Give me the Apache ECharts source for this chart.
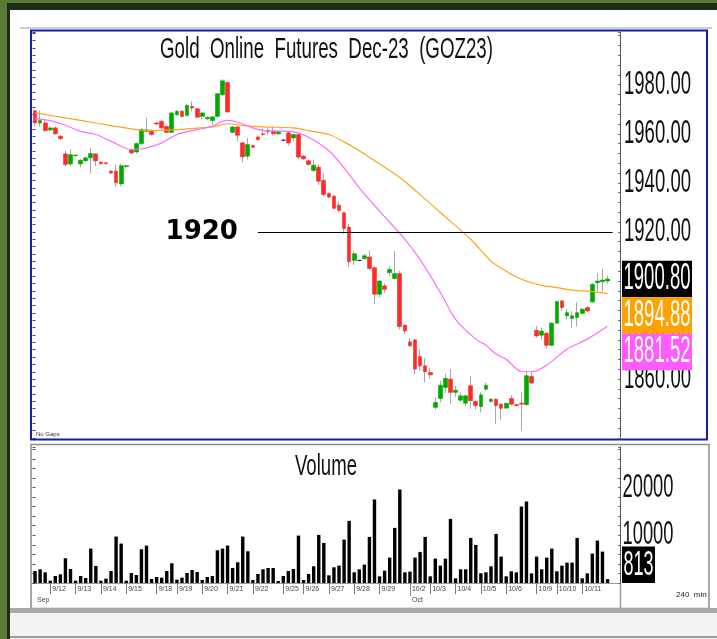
<!DOCTYPE html>
<html><head><meta charset="utf-8">
<script src="https://cdn.jsdelivr.net/npm/echarts@6/dist/echarts.min.js"></script>
<style>html,body{margin:0;padding:0;background:#587a33;overflow:hidden}#c{width:717px;height:639px}</style>
</head><body><div id="c"></div>
<script>
// ---- data ----
const dayNames = ['9/11','9/12','9/13','9/14','9/15','9/18','9/19','9/20','9/21','9/22','9/25','9/26','9/27','9/28','9/29','10/2','10/3','10/4','10/5','10/6','10/9','10/10','10/11'];
const dayBars  = [3,5,5,5,6,4,5,5,5,6,4,5,5,5,6,4,5,5,5,6,4,5,6];
const monthNames = {'9':'Sep','10':'Oct'};

const O = [1969.4,1964.4,1964.4,1961.6,1962.4,1959.0,1951.8,1947.7,1951.0,1947.7,1949.0,1950.2,1951.8,1948.4,1948.2,1944.8,1944.8,1939.6,1946.6,1953.6,1952.6,1956.0,1961.0,1961.4,1964.4,1965.1,1963.0,1960.6,1967.8,1969.2,1967.5,1971.2,1970.2,1967.1,1966.1,1965.4,1967.1,1975.9,1980.9,1960.6,1962.8,1956.3,1950.9,1955.2,1958.7,1960.0,1961.4,1961.0,1960.0,1957.4,1960.4,1958.3,1959.7,1950.9,1949.0,1945.0,1946.4,1941.0,1935.7,1934.6,1930.9,1927.8,1922.0,1908.4,1908.4,1909.1,1909.8,1905.4,1894.6,1898.0,1903.4,1901.0,1903.0,1882.0,1875.2,1876.0,1869.2,1865.4,1862.7,1848.5,1852.1,1856.6,1860.0,1854.6,1851.4,1850.2,1857.3,1850.9,1848.8,1855.9,1850.9,1851.8,1849.8,1848.2,1852.1,1849.6,1850.2,1849.6,1861.1,1879.9,1877.9,1878.7,1873.8,1882.8,1891.9,1885.8,1884.7,1885.1,1886.8,1889.2,1891.5,1899.3,1899.7,1900.0];
const C = [1964.4,1965.4,1961.3,1962.4,1960.0,1958.0,1947.5,1951.5,1951.3,1949.2,1950.2,1952.0,1949.0,1947.8,1947.9,1944.0,1940.0,1947.0,1947.0,1952.2,1956.0,1961.7,1961.6,1959.7,1964.0,1962.4,1960.6,1968.5,1969.2,1967.1,1971.6,1970.5,1966.8,1968.5,1966.7,1966.9,1976.3,1981.6,1968.9,1962.8,1959.4,1950.6,1955.6,1954.5,1957.6,1959.7,1960.8,1960.0,1960.8,1957.4,1956.3,1959.7,1950.5,1949.8,1947.5,1947.2,1940.7,1935.2,1934.2,1929.6,1928.7,1921.4,1907.9,1911.1,1908.4,1910.3,1905.1,1894.6,1900.0,1896.6,1904.7,1903.0,1881.4,1879.6,1873.6,1864.1,1865.4,1863.0,1861.7,1850.5,1857.5,1860.3,1854.6,1855.5,1853.2,1853.2,1851.2,1849.2,1853.6,1857.5,1851.8,1849.2,1848.1,1850.1,1849.8,1849.2,1849.8,1861.4,1858.4,1877.6,1879.6,1873.8,1882.8,1891.6,1889.2,1887.1,1885.8,1887.1,1888.5,1887.8,1898.6,1900.0,1900.4,1900.8];
const L = [1963.0,1963.0,1960.8,1961.0,1959.5,1957.6,1946.8,1946.9,1950.8,1946.4,1948.6,1943.8,1946.8,1947.3,1947.4,1943.5,1938.6,1938.6,1946.2,1951.8,1952.0,1955.5,1960.5,1959.3,1963.6,1962.0,1960.2,1960.2,1967.4,1966.7,1967.1,1969.2,1966.4,1965.8,1965.7,1963.7,1966.7,1975.5,1968.5,1960.2,1957.0,1948.4,1949.5,1954.1,1957.2,1959.3,1959.7,1959.4,1959.6,1956.9,1955.3,1956.8,1949.6,1949.4,1947.1,1944.6,1939.1,1934.8,1933.8,1929.2,1928.3,1919.2,1905.7,1906.5,1908.0,1908.7,1904.2,1890.5,1893.3,1895.2,1902.1,1900.6,1880.3,1878.3,1873.2,1862.0,1863.4,1858.7,1860.2,1847.5,1850.5,1854.2,1849.9,1852.7,1850.8,1849.1,1847.9,1847.5,1846.4,1855.2,1850.5,1841.7,1843.4,1847.8,1849.2,1848.9,1839.0,1849.2,1858.0,1876.9,1876.3,1872.5,1873.4,1882.4,1887.8,1884.4,1881.0,1881.4,1886.4,1887.4,1891.2,1895.9,1895.9,1899.0];
const H = [1969.8,1969.4,1965.8,1963.0,1963.0,1959.5,1952.9,1953.6,1951.6,1949.8,1950.8,1954.2,1952.2,1949.0,1948.6,1945.4,1947.5,1947.8,1947.4,1954.0,1956.5,1962.5,1966.5,1961.8,1964.8,1965.5,1963.4,1968.9,1969.6,1969.6,1972.0,1973.2,1970.6,1968.9,1967.1,1967.3,1976.7,1982.3,1981.3,1963.2,1963.2,1956.7,1958.3,1955.6,1959.5,1962.3,1962.3,1963.0,1961.2,1957.9,1961.1,1960.1,1960.1,1951.3,1949.4,1949.5,1947.5,1943.9,1936.1,1935.0,1932.5,1928.2,1923.3,1912.2,1908.8,1911.0,1912.5,1906.0,1900.4,1899.0,1905.9,1912.2,1904.1,1882.4,1876.6,1876.4,1872.0,1868.4,1864.7,1852.6,1859.3,1862.1,1864.1,1857.3,1854.6,1853.6,1861.3,1851.3,1854.6,1858.6,1852.2,1852.2,1850.2,1850.5,1853.5,1849.9,1854.6,1863.4,1863.4,1881.7,1881.0,1879.1,1883.2,1892.0,1892.2,1888.5,1887.8,1891.4,1888.9,1889.6,1899.3,1903.1,1905.0,1902.3];

const volumes = [2520,2870,2240,490,1470,1820,5180,2940,490,1470,1050,7210,3570,490,910,2520,9730,8260,490,2100,1680,7070,7840,840,1260,1120,2520,4130,700,1120,2100,2730,2310,630,1260,1470,6860,7210,7840,3150,4340,9730,6650,630,1890,2870,3150,3150,420,1470,2520,2940,9940,630,1890,3500,10080,8400,1610,3290,3640,9100,13020,2240,2870,3850,9660,17500,1400,2590,5320,11550,19600,2240,2380,5320,6510,9660,1400,5110,3640,5110,13440,980,2870,2870,9450,7980,2030,2240,3500,10290,5530,1400,2450,2240,16030,17080,2030,5530,2870,5320,7210,2450,3640,4270,4270,9450,980,2030,6160,8890,6580,813];

const maSlow = [[0,1968.5],[6,1966.5],[12,1964.4],[19,1962.0],[22,1961.3],[28,1961.7],[35,1962.8],[38,1964.1],[41,1963.4],[45,1962.8],[51,1962.4],[54,1961.3],[58,1959.7],[61,1956.7],[64,1953.1],[68,1947.7],[72,1942.2],[76,1935.2],[80,1927.9],[86,1917.0],[90,1908.1],[93,1904.0],[96,1900.7],[100,1898.2],[103,1897.3],[106,1896.3],[110,1895.7],[113,1894.88]];
const maFast = [[0,1966.2],[3,1965.4],[6,1963.5],[9,1961.0],[12,1959.7],[15,1957.0],[19,1953.6],[21,1953.8],[23,1954.8],[25,1956.3],[28,1959.7],[32,1961.7],[35,1963.1],[37,1965.1],[38,1965.5],[40,1964.7],[43,1962.4],[45,1961.4],[51,1960.8],[54,1958.6],[58,1953.1],[61,1946.1],[64,1938.0],[68,1928.5],[73,1917.0],[76,1908.8],[80,1895.3],[83,1884.4],[87,1876.3],[89,1873.8],[91,1870.2],[93,1868.1],[96,1863.1],[98,1863.0],[101,1865.7],[105,1872.2],[109,1876.3],[113,1881.52]];

const priceTicks = [1980,1960,1940,1920,1900,1880,1860];
const volumeTicks = [20000,10000];
const refLevel = {value:1920, from:44, to:114};
const lastClose = 1900.80, lastSlow = 1894.88, lastFast = 1881.52, lastVolume = 813;

// ---- derived ----
const cats = [];
dayNames.forEach((d,i)=>{for(let k=0;k<dayBars[i];k++) cats.push(d);});
const nBars = cats.length;
const slots = cats.concat(['','']);
const isDayStart = i => i>0 && i<nBars && slots[i]!==slots[i-1];
const mon = d => d.split('/')[0];
const isMonthStart = i => i<nBars && (i===0 || mon(slots[i])!==mon(slots[i-1]));

const wickData = O.map((o,i)=>[o,C[i],L[i],H[i]]);
const bodyData = O.map((o,i)=>[o,C[i],Math.min(o,C[i]),Math.max(o,C[i])]);

const NARROW = '"Liberation Sans Narrow","Arial Narrow","Liberation Sans",Arial,sans-serif';
const UP='#00aa00', DOWN='#ff2a2a', WICK='#a8a8a8', SLOW='#ffa31a', FAST='#ff6cff';

const chart = echarts.init(document.getElementById('c'), null, {renderer:'canvas'});
const GL = 32.5, GR = 96.8;
const option = {
  animation:false,
  backgroundColor:'#587a33',
  grid:[
    {left:GL,right:GR,top:32,bottom:201},
    {left:GL,right:GR,top:447,bottom:56}
  ],
  xAxis:[
    {type:'category',gridIndex:0,data:slots,axisLine:{show:false},axisTick:{show:false},axisLabel:{show:false}},
    {type:'category',gridIndex:1,data:slots,
      axisLine:{show:true,lineStyle:{color:'#6a6a6a',width:1}},
      axisTick:{show:true,alignWithLabel:true,length:11,interval:(i)=>isDayStart(i),lineStyle:{color:'#7a7a7a'}},
      axisLabel:{show:true,interval:(i)=>isDayStart(i),align:'left',margin:3,padding:[0,0,0,2],fontSize:7,fontFamily:NARROW,color:'#444'}},
    {type:'category',gridIndex:1,data:slots,position:'bottom',offset:11,
      axisLine:{show:true,lineStyle:{color:'#9a9a9a',width:1}},
      axisTick:{show:true,alignWithLabel:true,length:13,interval:(i)=>i>0&&isMonthStart(i),lineStyle:{color:'#8a8a8a'}},
      axisLabel:{show:true,interval:(i)=>isMonthStart(i),formatter:(v)=>monthNames[mon(v)]||'',align:'left',margin:3,padding:[0,0,0,2],fontSize:7,fontFamily:NARROW,color:'#444'}}
  ],
  yAxis:[
    {type:'value',gridIndex:0,position:'right',min:1836,max:2001.5,interval:4,scale:true,
      axisLine:{show:true,lineStyle:{color:'#555',width:1}},
      axisTick:{show:true,inside:true,length:2,lineStyle:{color:'#666'}},
      axisLabel:{show:false},splitLine:{show:false}},
    {type:'value',gridIndex:0,position:'left',min:1836,max:2001.5,interval:3,scale:true,
      axisLine:{show:false},
      axisTick:{show:true,inside:true,length:3,lineStyle:{color:'#3a3a9a'}},
      axisLabel:{show:false},splitLine:{show:false}},
    {type:'value',gridIndex:1,position:'right',min:0,max:28500,interval:2000,
      axisLine:{show:true,lineStyle:{color:'#555',width:1}},
      axisTick:{show:true,inside:true,length:2,lineStyle:{color:'#666'}},
      axisLabel:{show:false},splitLine:{show:false}},
    {type:'value',gridIndex:1,position:'left',min:0,max:28500,interval:2000,
      axisLine:{show:false},
      axisTick:{show:true,inside:true,length:3,lineStyle:{color:'#555'}},
      axisLabel:{show:false},splitLine:{show:false}}
  ],
  series:[
    {type:'candlestick',name:'wick',xAxisIndex:0,yAxisIndex:0,data:wickData,barWidth:1,silent:true,
      itemStyle:{color:WICK,color0:WICK,borderColor:WICK,borderColor0:WICK,borderColorDoji:WICK,borderWidth:1}},
    {type:'candlestick',name:'body',xAxisIndex:0,yAxisIndex:0,data:bodyData,barWidth:4.2,silent:true,
      itemStyle:{color:UP,color0:DOWN,borderColor:UP,borderColor0:DOWN,borderColorDoji:'#000',borderWidth:0.6},
      markLine:{silent:true,symbol:['none','none'],animation:false,
        lineStyle:{color:'#000',width:1.2,type:'solid'},
        label:{show:true,position:'start',distance:20,formatter:String(refLevel.value),
          fontFamily:'"DejaVu Sans",Verdana,sans-serif',fontWeight:'bold',fontSize:26,color:'#000'},
        data:[[{coord:[refLevel.from,refLevel.value]},{coord:[refLevel.to,refLevel.value]}]]}},
    {type:'line',name:'slow',xAxisIndex:0,yAxisIndex:0,data:maSlow,showSymbol:false,symbol:'none',smooth:0.3,silent:true,
      lineStyle:{color:SLOW,width:1.2}},
    {type:'line',name:'fast',xAxisIndex:0,yAxisIndex:0,data:maFast,showSymbol:false,symbol:'none',smooth:0.3,silent:true,
      lineStyle:{color:FAST,width:1.2}},
    {type:'bar',name:'volume',xAxisIndex:1,yAxisIndex:2,data:volumes,barWidth:3.4,silent:true,
      itemStyle:{color:'#000'}}
  ]
};
chart.setOption(option);

// ---- overlay: frames, stretched texts, value boxes ----
const yP = v => chart.convertToPixel({yAxisIndex:0}, v);
const yV = v => chart.convertToPixel({yAxisIndex:2}, v);
const mctx = document.createElement('canvas').getContext('2d');
const BASE = 20;
mctx.font = BASE+'px '+NARROW;
const m0 = mctx.measureText('0');
const capH = (m0.actualBoundingBoxAscent||BASE*0.716);
// text stretched to a given width and cap height (the reference uses a tall condensed face)
function fitText(x,y,txt,w,h,opts){
  opts = opts||{};
  const tw = mctx.measureText(txt).width;
  return {type:'text',x:x,y:y,scaleX:w/tw,scaleY:h/capH,z:opts.z||100,silent:true,
    style:{text:txt,x:0,y:0,font:BASE+'px '+NARROW,fill:opts.fill||'#111',
      textAlign:opts.align||'left',textVerticalAlign:'middle'}};
}
const g = [];
// background panels
g.push({type:'rect',z:-5,silent:true,shape:{x:8,y:3,width:709,height:8},style:{fill:'#1f2b18'}});
g.push({type:'rect',z:-5,silent:true,shape:{x:7,y:3,width:3,height:636},style:{fill:'#1f2b18'}});
g.push({type:'rect',z:-4,silent:true,shape:{x:10,y:10,width:707,height:629},style:{fill:'#ffffff'}});
g.push({type:'rect',z:-4,silent:true,shape:{x:10,y:613,width:707,height:26},style:{fill:'#f3f3f3'}});
g.push({type:'rect',z:-3,silent:true,shape:{x:10,y:636,width:707,height:2},style:{fill:'#9c9c9c'}});
g.push({type:'rect',z:-3,silent:true,shape:{x:20,y:27,width:692,height:2},style:{fill:'#cfcfcf'}});
// price frame (blue)
g.push({type:'rect',z:-2,silent:true,shape:{x:31,y:30.5,width:676,height:409},style:{fill:'#fff',stroke:'#1c1c9c',lineWidth:2}});
// volume frame
g.push({type:'rect',z:-2,silent:true,shape:{x:31,y:444.5,width:678,height:164},style:{fill:'#fff',stroke:'#8c8c8c',lineWidth:1.5}});
g.push({type:'rect',z:-1,silent:true,shape:{x:10,y:608,width:707,height:5},style:{fill:'#a9a9a9'}});
g.push({type:'line',z:-1,silent:true,shape:{x1:620.5,y1:583,x2:620.5,y2:608},style:{stroke:'#9a9a9a',lineWidth:1.5}});
// titles
g.push(fitText(326.5,50,'Gold  Online  Futures  Dec-23  (GOZ23)',333,21,{align:'center'}));
g.push(fitText(326,467,'Volume',62,21,{align:'center'}));
// price axis labels
priceTicks.forEach(v=>g.push(fitText(624,yP(v),v.toFixed(2),67,23)));
// volume axis labels
volumeTicks.forEach(v=>g.push(fitText(622.5,yV(v),String(v),51,23)));
// stacked value boxes
const BH = 36.5;
const boxes = [
  {v:lastClose,bg:'#000000'},
  {v:lastSlow,bg:'#ffa200'},
  {v:lastFast,bg:'#ff5cff'}
].map(b=>Object.assign(b,{py:yP(b.v)})).sort((a,b)=>a.py-b.py);
let prevBottom = -1e9;
boxes.forEach(b=>{
  const top = Math.max(b.py-BH/2, prevBottom);
  prevBottom = top+BH;
  g.push({type:'rect',z:110,silent:true,shape:{x:622,y:top,width:70,height:BH},style:{fill:b.bg}});
  g.push(fitText(623.5,top+BH/2,b.v.toFixed(2),67,26,{fill:'#fff',z:120}));
});
// last volume box (clamped inside the volume plot)
const vb = 583;
const vTop = Math.min(yV(lastVolume)-BH/2, vb-BH);
g.push({type:'rect',z:110,silent:true,shape:{x:622,y:vTop,width:33,height:BH},style:{fill:'#000'}});
g.push(fitText(638.5,vTop+BH/2,String(lastVolume),30,25,{fill:'#fff',z:120,align:'center'}));
// small texts
g.push({type:'text',x:36,y:434,z:100,silent:true,style:{text:'No Gaps',font:'6px '+NARROW,fill:'#333',textVerticalAlign:'middle'}});
g.push({type:'text',x:676,y:595,z:100,silent:true,style:{text:'240  min',font:'8px '+NARROW,fill:'#222',textVerticalAlign:'middle'}});

chart.setOption({graphic:{elements:g}});
</script>
</body></html>
